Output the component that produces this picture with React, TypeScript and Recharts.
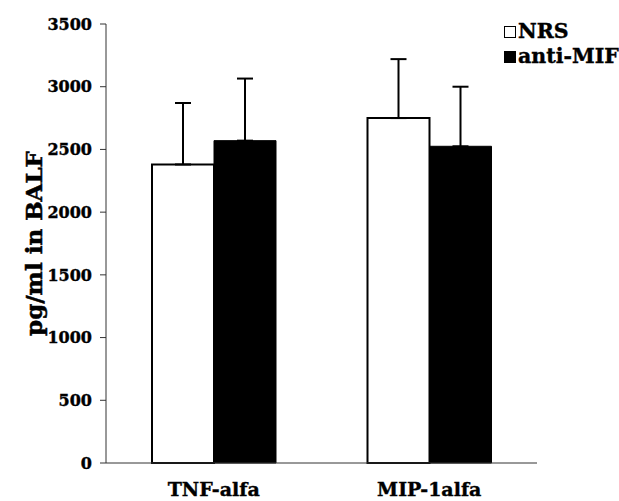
import { Bar, BarChart, ErrorBar, Label, XAxis, YAxis } from "recharts";

const categories = ["TNF-alfa", "MIP-1alfa"];
const nrsValues = [2380, 2750];
const nrsErrors = [490, 470];
const antiMifValues = [2570, 2525];
const antiMifErrors = [495, 475];
const yTicks = [0, 500, 1000, 1500, 2000, 2500, 3000, 3500];

const seriesNames = ["NRS", "anti-MIF"];

const data = categories.map((name, i) => ({
  name,
  nrs: nrsValues[i],
  nrsErr: [0, nrsErrors[i]],
  antiMif: antiMifValues[i],
  antiMifErr: [0, antiMifErrors[i]],
}));

const FONT = "'DejaVu Serif', serif";

function YLabel({ viewBox }: any) {
  const cx = viewBox.x - 3;
  const cy = viewBox.y + viewBox.height / 2;
  return (
    <text
      x={cx}
      y={cy}
      transform={`rotate(-90, ${cx}, ${cy})`}
      textAnchor="middle"
      dominantBaseline="central"
      fontFamily={FONT}
      fontWeight="bold"
      fontSize={23}
      fill="#000"
      stroke="#000"
      strokeWidth={0.5}
    >
      pg/ml in BALF
    </text>
  );
}

export default function App() {
  return (
    <div style={{ position: "relative", width: 619, height: 501, background: "#fff" }}>
      <style>{`body{margin:0}`}</style>
      <BarChart
        width={619}
        height={501}
        data={data}
        margin={{ top: 24, right: 82, bottom: 0, left: 36 }}
        barGap={0}
      >
        <XAxis
          dataKey="name"
          height={38}
          tickLine={false}
          tickSize={6}
          tickMargin={14}
          axisLine={{ stroke: "#333", strokeWidth: 1 }}
          tick={{
            fill: "#000",
            stroke: "#000",
            strokeWidth: 0.4,
            fontFamily: FONT,
            fontWeight: "bold",
            fontSize: 19,
          }}
        />
        <YAxis
          width={70}
          domain={[0, 3500]}
          ticks={yTicks}
          interval={0}
          tickSize={6}
          tickMargin={8}
          axisLine={{ stroke: "#333", strokeWidth: 1 }}
          tickLine={{ stroke: "#333", strokeWidth: 1 }}
          tick={{
            fill: "#000",
            stroke: "#000",
            strokeWidth: 0.4,
            fontFamily: FONT,
            fontWeight: "bold",
            fontSize: 16,
          }}
        >
          <Label content={YLabel} />
        </YAxis>
        <Bar
          dataKey="nrs"
          name={seriesNames[0]}
          barSize={62}
          fill="#fff"
          stroke="#000"
          strokeWidth={2}
          isAnimationActive={false}
        >
          <ErrorBar dataKey="nrsErr" direction="y" width={8} stroke="#000" strokeWidth={2} />
        </Bar>
        <Bar
          dataKey="antiMif"
          name={seriesNames[1]}
          barSize={62}
          fill="#000"
          stroke="#000"
          strokeWidth={1}
          isAnimationActive={false}
        >
          <ErrorBar dataKey="antiMifErr" direction="y" width={8} stroke="#000" strokeWidth={2} />
        </Bar>
      </BarChart>
      <div
        style={{
          position: "absolute",
          left: 504,
          top: 19,
          fontFamily: FONT,
          fontWeight: "bold",
          fontSize: 20.5,
          lineHeight: "25px",
          color: "#000",
          WebkitTextStroke: "0.4px #000",
        }}
      >
        {seriesNames.map((s, i) => (
          <div key={s} style={{ display: "flex", alignItems: "center", whiteSpace: "nowrap" }}>
            <span
              style={{
                display: "inline-block",
                width: 12,
                height: 12,
                boxSizing: "border-box",
                border: "1.5px solid #000",
                background: i === 0 ? "#fff" : "#000",
                marginRight: 2,
              }}
            />
            {s}
          </div>
        ))}
      </div>
    </div>
  );
}
